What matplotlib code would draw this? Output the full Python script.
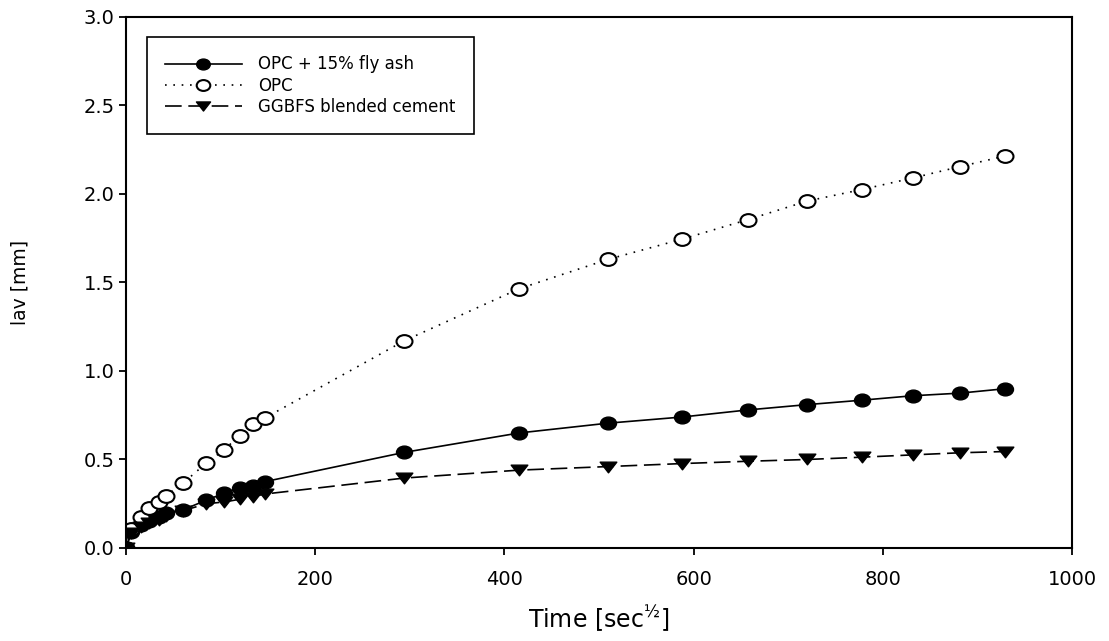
import matplotlib

matplotlib.use("Agg")
import matplotlib.pyplot as plt
from matplotlib.path import Path
from matplotlib.transforms import Affine2D

# x 轴: 时间平方根 [sec^0.5]
time_sqrt = [0, 5.5, 15.5, 24.5, 34.6, 42.4, 60, 84.9, 103.9, 120, 134.2, 147,
             293.9, 415.7, 509.1, 587.9, 657.3, 720, 777.7, 831.4, 881.8, 929.5]

fly_ash = [0, 0.09, 0.13, 0.15, 0.175, 0.195, 0.215, 0.27, 0.31, 0.34, 0.35, 0.375,
           0.54, 0.65, 0.705, 0.74, 0.78, 0.81, 0.835, 0.86, 0.875, 0.9]
opc = [0, 0.11, 0.175, 0.225, 0.26, 0.295, 0.365, 0.48, 0.555, 0.635, 0.70, 0.735,
       1.17, 1.465, 1.63, 1.745, 1.855, 1.96, 2.025, 2.09, 2.155, 2.215]
ggbfs = [0, 0.085, 0.12, 0.14, 0.16, 0.18, 0.21, 0.25, 0.26, 0.275, 0.29, 0.305,
         0.395, 0.44, 0.46, 0.477, 0.49, 0.5, 0.513, 0.526, 0.538, 0.545]

labels = ["OPC + 15% fly ash", "OPC", "GGBFS blended cement"]
x_ticks = [0, 200, 400, 600, 800, 1000]
y_ticks = [0.0, 0.5, 1.0, 1.5, 2.0, 2.5, 3.0]

plt.rcParams["font.family"] = ["DejaVu Sans"]
plt.rcParams["mathtext.fontset"] = "dejavusans"

# 原图整体横向拉伸, 标记用略扁的椭圆/三角形
ellipse = Path.unit_circle().transformed(Affine2D().scale(1.25, 1.0))
tri_down = Path([(-1.25, 0.8), (1.25, 0.8), (0, -0.8), (-1.25, 0.8)],
                [Path.MOVETO, Path.LINETO, Path.LINETO, Path.CLOSEPOLY])

fig = plt.figure(figsize=(11.09, 6.41), dpi=100)
ax = fig.add_axes([0.1136, 0.1451, 0.8531, 0.8284])

ax.plot(time_sqrt, fly_ash, color="black", linestyle="-", linewidth=1.2,
        marker=ellipse, markersize=11.5, markerfacecolor="black", markeredgecolor="black",
        label=labels[0])
ax.plot(time_sqrt, opc, color="black", linestyle=(0, (1, 4)), linewidth=1.2,
        marker=ellipse, markersize=11.5, markerfacecolor="white", markeredgecolor="black",
        markeredgewidth=1.5, label=labels[1])
ax.plot(time_sqrt, ggbfs, color="black", linestyle=(0, (10, 4)), linewidth=1.2,
        marker=tri_down, markersize=12, markerfacecolor="black", markeredgecolor="black",
        label=labels[2])

ax.set_xlim(0, 1000)
ax.set_ylim(0, 3.0)
ax.set_xticks(x_ticks)
ax.set_yticks(y_ticks)
ax.set_xticklabels([str(v) for v in x_ticks])
ax.set_yticklabels([f"{v:.1f}" for v in y_ticks])
ax.tick_params(direction="out", length=5, width=1.3, labelsize=14,
               top=False, right=False)
ax.tick_params(axis="x", pad=11)
ax.tick_params(axis="y", pad=3)
for spine in ax.spines.values():
    spine.set_linewidth(1.5)

ax.set_xlabel("Time [sec$^{½}$]", fontsize=17, labelpad=9)
ax.set_ylabel("lav [mm]", fontsize=13.5, labelpad=39)

leg = ax.legend(loc="upper left", bbox_to_anchor=(0.022, 0.962), fontsize=12,
                frameon=True, fancybox=False, edgecolor="black", framealpha=1,
                handlelength=4.6, markerscale=0.85, borderpad=1.1,
                labelspacing=0.2, handletextpad=1.0, borderaxespad=0)
leg.get_frame().set_linewidth(1.2)

fig.savefig("out.png", dpi=100)
